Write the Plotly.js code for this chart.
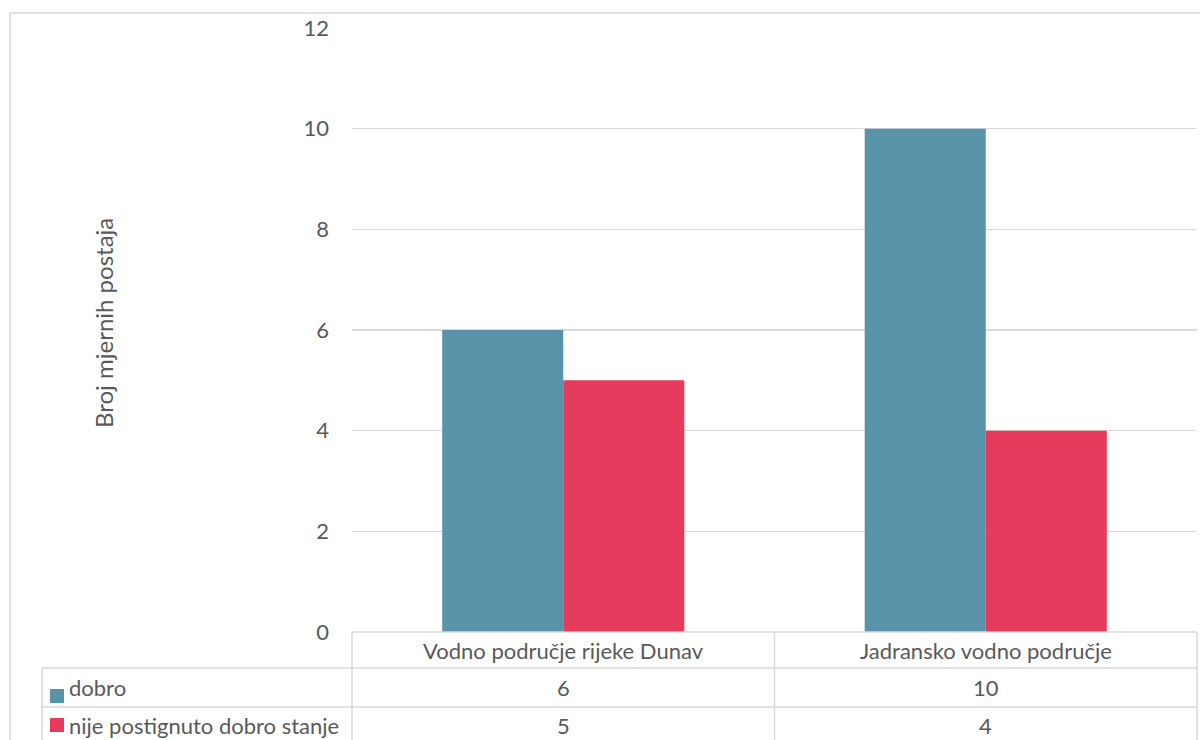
<!DOCTYPE html>
<html>
<head>
<meta charset="utf-8">
<script src="https://cdn.plot.ly/plotly-3.0.1.min.js"></script>
<style>
  html, body { margin: 0; padding: 0; background: #ffffff; }
  #chart { width: 1200px; height: 740px; }
</style>
</head>
<body>
<div id="chart"></div>
<script>
// Podaci: broj mjernih postaja po vodnom području i stanju
const categories = ['Vodno područje rijeke Dunav', 'Jadransko vodno područje'];
const seriesNames = ['dobro', 'nije postignuto dobro stanje'];
const dobro = [6, 10];
const nijePostignuto = [5, 4];
const yTicks = [0, 2, 4, 6, 8, 10, 12];
const yTitle = 'Broj mjernih postaja';

const colors = ['#5893A9', '#E63B5C'];
const textColor = '#595959';
const lineColor = '#D9D9D9';
const fontFamily = 'Lato, "Open Sans", sans-serif';
const fontSize = 22;

// Geometrija crteža u pikselima
const W = 1200, H = 740;
const M = { l: 352, r: 3, t: 28, b: 108 };
const plotW = W - M.l - M.r;
const plotH = H - M.t - M.b;
const px = x => (x - M.l) / plotW;            // piksel -> paper x
const py = y => (M.t + plotH - y) / plotH;     // piksel -> paper y

const tableTop = 632, row1 = 668, row2 = 707, tableBottom = 746;
const tableLeft = 42, firstCol = M.l, rightEdge = W - M.r;
const midCol = M.l + plotW / 2;

const traces = [
  { type: 'bar', name: seriesNames[0], x: categories, y: dobro,
    marker: { color: colors[0] }, hoverinfo: 'x+y+name' },
  { type: 'bar', name: seriesNames[1], x: categories, y: nijePostignuto,
    marker: { color: colors[1] }, hoverinfo: 'x+y+name' }
];

const lineShape = (x0, y0, x1, y1) => ({
  type: 'line', xref: 'paper', yref: 'paper',
  x0: px(x0), y0: py(y0), x1: px(x1), y1: py(y1),
  line: { color: lineColor, width: 1.5 }
});

const shapes = [
  // okvir grafikona
  { type: 'rect', xref: 'paper', yref: 'paper',
    x0: px(10), y0: py(760), x1: px(1220), y1: py(13),
    line: { color: lineColor, width: 1.5 }, fillcolor: 'rgba(0,0,0,0)', layer: 'below' },
  // tablica podataka
  lineShape(firstCol, tableTop, rightEdge, tableTop),
  lineShape(tableLeft, row1, rightEdge, row1),
  lineShape(tableLeft, row2, rightEdge, row2),
  lineShape(tableLeft, tableBottom, rightEdge, tableBottom),
  lineShape(tableLeft, row1, tableLeft, tableBottom),
  lineShape(firstCol, tableTop, firstCol, tableBottom),
  lineShape(midCol, tableTop, midCol, tableBottom),
  lineShape(rightEdge, tableTop, rightEdge, tableBottom),
  // oznake serija (legenda u tablici)
  { type: 'rect', xref: 'paper', yref: 'paper', x0: px(50), x1: px(64), y0: py(703), y1: py(689),
    fillcolor: colors[0], line: { width: 0 } },
  { type: 'rect', xref: 'paper', yref: 'paper', x0: px(50), x1: px(64), y0: py(732), y1: py(718),
    fillcolor: colors[1], line: { width: 0 } }
];

const font = { family: fontFamily, size: fontSize, color: textColor };
const annotations = [];
const rowCenters = [(row1 + row2) / 2, (row2 + tableBottom) / 2 - 1.5];
const rows = [dobro, nijePostignuto];

categories.forEach((c, i) => {
  annotations.push({ xref: 'x', yref: 'paper', x: c, y: py((tableTop + row1) / 2),
    text: c, showarrow: false, font, xanchor: 'center', yanchor: 'middle' });
  rows.forEach((vals, r) => {
    annotations.push({ xref: 'x', yref: 'paper', x: c, y: py(rowCenters[r]),
      text: String(vals[i]), showarrow: false, font, xanchor: 'center', yanchor: 'middle' });
  });
});
seriesNames.forEach((n, r) => {
  annotations.push({ xref: 'paper', yref: 'paper', x: px(67), y: py(rowCenters[r]),
    text: n, showarrow: false, font, xanchor: 'left', yanchor: 'middle' });
});
annotations.push({ xref: 'paper', yref: 'paper', x: px(103), y: py(323),
  text: yTitle, textangle: -90, showarrow: false,
  font: { family: fontFamily, size: 24, color: textColor },
  xanchor: 'center', yanchor: 'middle' });

const layout = {
  width: W, height: H,
  margin: M,
  paper_bgcolor: '#ffffff', plot_bgcolor: '#ffffff',
  barmode: 'group', bargap: 0.427, bargroupgap: 0,
  showlegend: false,
  font,
  xaxis: { type: 'category', showticklabels: false, showgrid: false,
    zeroline: false, showline: false, ticks: '', fixedrange: true },
  yaxis: { range: [0, 12], tickvals: yTicks, ticktext: yTicks.map(String),
    showgrid: true, gridcolor: lineColor, gridwidth: 1.5, zeroline: false,
    showline: false, ticks: '', ticklabelstandoff: 22, tickfont: font, fixedrange: true },
  shapes, annotations
};

Plotly.newPlot('chart', traces, layout, { displayModeBar: false, staticPlot: true });
</script>
</body>
</html>
